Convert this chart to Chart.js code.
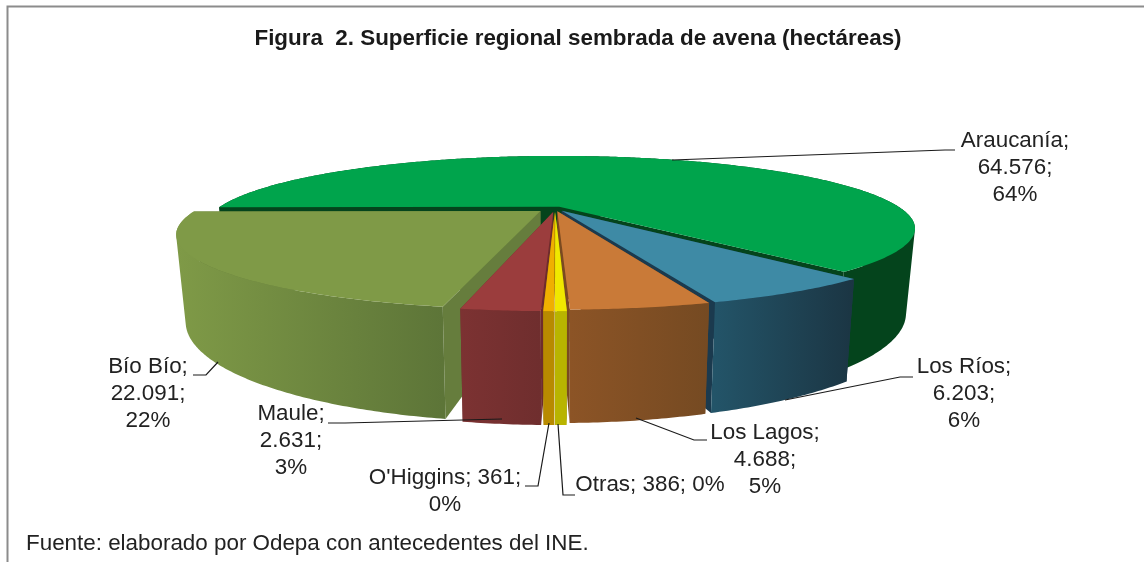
<!DOCTYPE html>
<html>
<head>
<meta charset="utf-8">
<style>
    html, body { margin: 0; padding: 0; background: #fff; overflow: hidden; }
    canvas { display: block; filter: blur(0.4px); }
</style>
</head>
<body>
    <canvas id="myChart" width="1144" height="562"></canvas>
    <script src="https://cdn.jsdelivr.net/npm/chart.js"></script>

    <script>
        // slice order is clockwise, starting with Araucanía
        const regions = ['Araucanía', 'Los Ríos', 'Los Lagos', 'Otras', "O'Higgins", 'Maule', 'Bío Bío']
        const hectares = [64576, 6203, 4688, 386, 361, 2631, 22091]
        const percents = [64, 6, 5, 0, 0, 3, 22]

        const titleText = 'Figura  2. Superficie regional sembrada de avena (hectáreas)'
        const sourceText = 'Fuente: elaborado por Odepa con antecedentes del INE.'

        const topColors = ['#00a44c', '#3e8aa5', '#c97a38', '#f0e800', '#f0b000', '#9b3d3d', '#7f9a47']
        const wallLeft = ['#04441c', '#235468', '#8c5426', '#b8b400', '#b88a00', '#7c3232', '#7f9a47']
        const wallRight = ['#04441c', '#1b3543', '#754a22', '#b8b400', '#b88a00', '#6f2e2e', '#5d7538']
        const sideColors = ['#04441c', '#1b3a4e', '#7a4a20', '#8a8600', '#8a6800', '#6e2c2c', '#667d3d']
        const explode = [3, 4, 4, 5, 5, 5, 5.5]

        // label text lines are split where the original wraps them
        const labelLines = [[0, 1, 2], [0, 1, 2], [0, 1, 2], [3], [4, 2], [0, 1, 2], [0, 1, 2]]
        const labelX = [1015, 964, 765, 650, 445, 291, 148]
        const labelY = [141, 367, 433, 485, 478, 414, 367]
        const leaders = [
            [[955, 150], [945, 150], [672, 160]],
            [[913, 377], [900, 377], [785, 400]],
            [[707, 440], [694, 440], [636, 418]],
            [[575, 495], [563, 495], [558, 424]],
            [[525, 486], [538, 486], [549, 423]],
            [[328, 423], [345, 423], [502, 419]],
            [[193, 375], [206, 375], [218, 362]]
        ]

        // projection of the pie disc, tilted with some perspective
        const view = { cx: 555, cy: 208.5, rx: 342, ry: 67, persp: 0.3, depth: 78, shrink: 0.975 }

        function project(u, v) {
            const s = 1 / (1 - view.persp * v)
            return { x: view.cx + view.rx * u * s, y: view.cy + view.ry * v * s, s: s }
        }

        function lower(p) {
            return { x: view.cx + (p.x - view.cx) * view.shrink, y: p.y + view.depth * p.s }
        }

        function addPoly(ctx, pts) {
            pts.forEach((p, i) => i ? ctx.lineTo(p.x, p.y) : ctx.moveTo(p.x, p.y))
            ctx.closePath()
        }

        function poly(ctx, pts) {
            ctx.beginPath()
            addPoly(ctx, pts)
        }

        function area(pts) {
            let sum = 0
            pts.forEach((p, i) => {
                const n = pts[(i + 1) % pts.length]
                sum += p.x * n.y - n.x * p.y
            })
            return sum
        }

        function drawSlice(ctx, arc, i) {
            const mid = (arc.startAngle + arc.endAngle) / 2
            const d = arc.options.offset / 100
            const ox = Math.cos(mid) * d
            const oy = Math.sin(mid) * d
            const apex = project(ox, oy)
            const rim = []
            const steps = Math.max(2, Math.ceil((arc.endAngle - arc.startAngle) / 0.01))
            for (let k = 0; k <= steps; k++) {
                const a = arc.startAngle + (arc.endAngle - arc.startAngle) * k / steps
                rim.push(project(ox + Math.cos(a), oy + Math.sin(a)))
            }
            const base = rim.map(lower)
            const first = rim[0]
            const last = rim[rim.length - 1]

            // cut faces
            ctx.fillStyle = sideColors[i]
            poly(ctx, [apex, first, lower(first), lower(apex)])
            ctx.fill()
            poly(ctx, [apex, last, lower(last), lower(apex)])
            ctx.fill()

            // outer wall: all quads in one path with the same winding, so no seams
            const xs = rim.map(p => p.x)
            const grad = ctx.createLinearGradient(Math.min(...xs), 0, Math.max(...xs), 0)
            grad.addColorStop(0, wallLeft[i])
            grad.addColorStop(1, wallRight[i])
            ctx.fillStyle = grad
            ctx.beginPath()
            for (let k = 0; k < steps; k++) {
                const quad = [rim[k], rim[k + 1], base[k + 1], base[k]]
                addPoly(ctx, area(quad) < 0 ? quad.reverse() : quad)
            }
            ctx.fill()

            // top
            ctx.fillStyle = arc.options.backgroundColor
            poly(ctx, [apex].concat(rim))
            ctx.fill()
        }

        const pie3d = {
            id: 'pie3d',
            beforeDraw(chart) {
                const ctx = chart.ctx
                ctx.save()
                ctx.strokeStyle = '#8c8c8c'
                ctx.lineWidth = 2
                ctx.beginPath()
                ctx.moveTo(7.5, 562)
                ctx.lineTo(7.5, 6.5)
                ctx.lineTo(1144, 6.5)
                ctx.stroke()
                ctx.restore()
            },
            beforeDatasetDraw(chart) {
                const ctx = chart.ctx
                const arcs = chart.getDatasetMeta(0).data
                const order = arcs.map((a, i) => i).sort((p, q) =>
                    Math.sin((arcs[p].startAngle + arcs[p].endAngle) / 2) - Math.sin((arcs[q].startAngle + arcs[q].endAngle) / 2))
                ctx.save()
                order.forEach(i => drawSlice(ctx, arcs[i], i))
                ctx.restore()
                return false
            },
            afterDraw(chart) {
                const ctx = chart.ctx
                ctx.save()
                ctx.strokeStyle = '#1a1a1a'
                ctx.lineWidth = 1.2
                leaders.forEach(line => {
                    ctx.beginPath()
                    line.forEach((p, k) => k ? ctx.lineTo(p[0], p[1]) : ctx.moveTo(p[0], p[1]))
                    ctx.stroke()
                })
                ctx.fillStyle = '#222'
                ctx.font = '22.4px "Liberation Sans"'
                ctx.textAlign = 'center'
                ctx.textBaseline = 'middle'
                regions.forEach((name, i) => {
                    const value = hectares[i] >= 1000 ? hectares[i].toString().replace(/(\d)(\d{3})$/, '$1.$2') : String(hectares[i])
                    const parts = [name + ';', value + ';', percents[i] + '%', name + '; ' + value + '; ' + percents[i] + '%', name + '; ' + value + ';']
                    labelLines[i].forEach((p, k) => ctx.fillText(parts[p], labelX[i], labelY[i] + k * 27))
                })
                ctx.textAlign = 'left'
                ctx.fillText(sourceText, 26, 544)
                ctx.restore()
            }
        }

        new Chart(document.getElementById('myChart').getContext('2d'), {
            type: 'pie',
            data: {
                labels: regions,
                datasets: [{
                    data: hectares,
                    backgroundColor: topColors,
                    borderWidth: 0,
                    offset: explode
                }]
            },
            options: {
                responsive: false,
                animation: false,
                rotation: 269.5,
                layout: { padding: { left: 12 } },
                plugins: {
                    legend: { display: false },
                    tooltip: { enabled: false },
                    title: {
                        display: true,
                        text: titleText,
                        color: '#1a1a1a',
                        font: { family: '"Liberation Sans"', size: 22.4, weight: 'bold' },
                        padding: { top: 25, bottom: 10 }
                    }
                }
            },
            plugins: [pie3d]
        })
    </script>
</body>
</html>
